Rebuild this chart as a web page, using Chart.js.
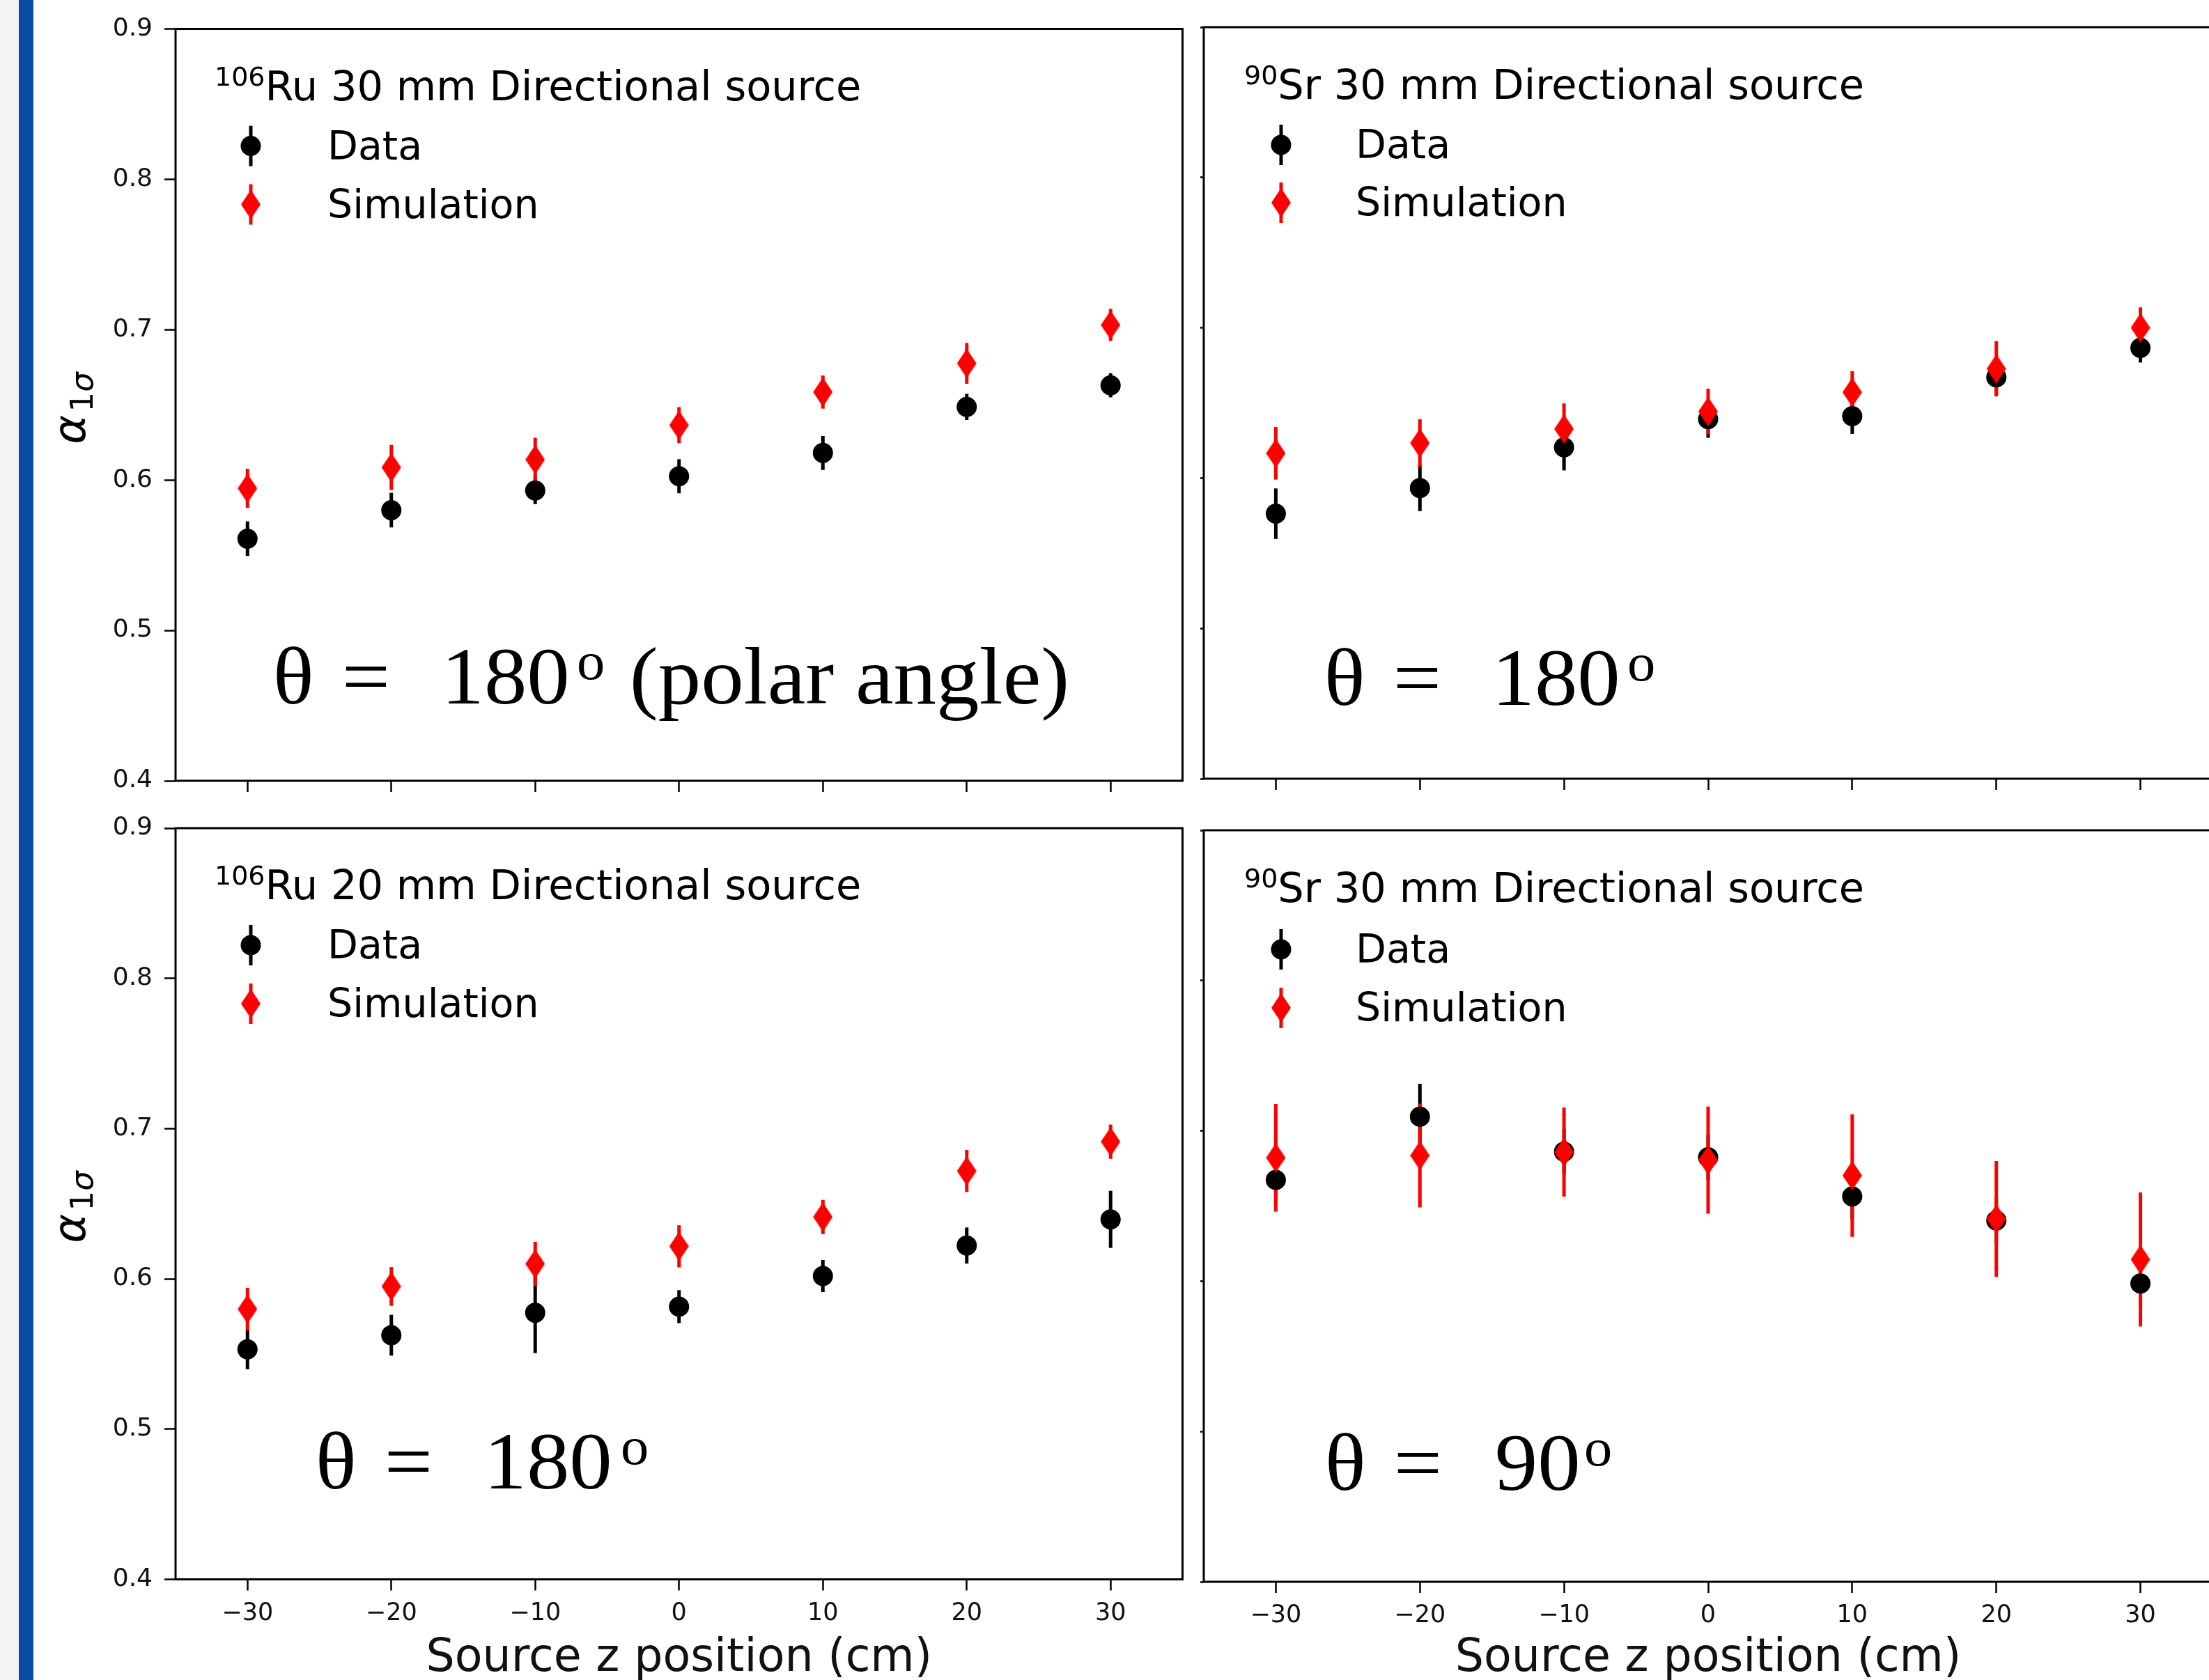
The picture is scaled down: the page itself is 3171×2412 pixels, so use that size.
<!DOCTYPE html>
<html>
<head>
<meta charset="utf-8">
<script src="https://cdn.jsdelivr.net/npm/chart.js@4.4.1/dist/chart.umd.min.js"></script>
<style>
  html, body { margin: 0; padding: 0; background: #fff; }
  body { width: 3171px; height: 2412px; overflow: hidden; position: relative; }
  #edge { position: absolute; left: 0; top: 0; width: 27px; height: 2412px; background: #f3f3f3; }
  #bar { position: absolute; left: 27px; top: 0; width: 21px; height: 2412px; background: #0b4ca6; }
  canvas { position: absolute; }
</style>
</head>
<body>
<div id="edge"></div>
<div id="bar"></div>
<canvas id="tl"></canvas>
<canvas id="tr"></canvas>
<canvas id="bl"></canvas>
<canvas id="br"></canvas>
<script>
// source z positions (cm) and axis ticks
const zPositions = [-30, -20, -10, 0, 10, 20, 30];
const xTickValues = [-30, -20, -10, 0, 10, 20, 30];
const yTickValues = [0.4, 0.5, 0.6, 0.7, 0.8, 0.9];

// 106Ru 30 mm, theta = 180
const ru30Data = [0.561, 0.580, 0.593, 0.6025, 0.618, 0.6486, 0.663];
const ru30DataErr = [0.0115, 0.0115, 0.009, 0.0113, 0.0113, 0.0087, 0.008];
const ru30Sim = [0.5945, 0.6084, 0.6136, 0.6365, 0.6585, 0.6776, 0.7031];
const ru30SimErr = [0.013, 0.015, 0.0145, 0.012, 0.011, 0.0136, 0.0107];

// 90Sr 30 mm, theta = 180
const sr30Data = [0.5763, 0.5934, 0.6205, 0.6392, 0.6412, 0.667, 0.6866];
const sr30DataErr = [0.0168, 0.0154, 0.0154, 0.0124, 0.0118, 0.012, 0.0097];
const sr30Sim = [0.6165, 0.6233, 0.6327, 0.6443, 0.6571, 0.6727, 0.700];
const sr30SimErr = [0.0175, 0.0159, 0.017, 0.0152, 0.014, 0.0184, 0.0136];

// 106Ru 20 mm, theta = 180
const ru20Data = [0.5531, 0.5625, 0.5775, 0.5815, 0.6019, 0.6222, 0.6396];
const ru20DataErr = [0.0133, 0.0136, 0.0269, 0.011, 0.0107, 0.012, 0.019];
const ru20Sim = [0.5799, 0.595, 0.61, 0.6217, 0.6412, 0.6718, 0.6913];
const ru20SimErr = [0.0142, 0.0129, 0.0147, 0.014, 0.0114, 0.014, 0.0114];

// 90Sr 30 mm, theta = 90
const sr90Data = [0.6674, 0.7094, 0.6862, 0.6824, 0.6564, 0.6404, 0.5985];
const sr90DataErr = [0.015, 0.0219, 0.015, 0.015, 0.015, 0.015, 0.015];
const sr90Sim = [0.6821, 0.6836, 0.6859, 0.6805, 0.6703, 0.6414, 0.6144];
const sr90SimErr = [0.0358, 0.0345, 0.0296, 0.0356, 0.0408, 0.0385, 0.0446];

const xTitle = 'Source z position (cm)';
const legendLabels = ['Data', 'Simulation'];

// panel layout, in page pixels
const panels = [
  {
    canvasId: 'tl', box: { x: 0, y: 0, w: 1712, h: 1160 },
    area: { l: 252, t: 41.5, r: 1699, b: 1121 },
    yLabels: true, xLabels: false,
    data: ru30Data, dataErr: ru30DataErr, sim: ru30Sim, simErr: ru30SimErr,
    sup: '106', title: 'Ru 30 mm Directional source',
    legend: { supX: 308, markerX: 360, textX: 470, titleY: 143.7, dataY: 228.6, simY: 312.5 },
    angle: { y: 1010, parts: [['θ', 397], ['=', 496], ['180', 644]], supX: 830, tail: ['(polar angle)', 909] },
    yTitle: { x: 122, y: 586 }
  },
  {
    canvasId: 'tr', box: { x: 1712, y: 0, w: 1488, h: 1160 },
    area: { l: 1728, t: 39, r: 3176, b: 1118 },
    yLabels: false, xLabels: false,
    data: sr30Data, dataErr: sr30DataErr, sim: sr30Sim, simErr: sr30SimErr,
    sup: '90', title: 'Sr 30 mm Directional source',
    legend: { supX: 1786, markerX: 1839, textX: 1946, titleY: 142, dataY: 227, simY: 310 },
    angle: { y: 1012, parts: [['θ', 1906], ['=', 2005], ['180', 2152]], supX: 2338 }
  },
  {
    canvasId: 'bl', box: { x: 0, y: 1130, w: 1712, h: 1291 },
    area: { l: 252, t: 1189, r: 1699, b: 2267.5 },
    yLabels: true, xLabels: true,
    data: ru20Data, dataErr: ru20DataErr, sim: ru20Sim, simErr: ru20SimErr,
    sup: '106', title: 'Ru 20 mm Directional source',
    legend: { supX: 308, markerX: 360, textX: 470, titleY: 1291, dataY: 1376, simY: 1460 },
    angle: { y: 2137, parts: [['θ', 458], ['=', 557], ['180', 705]], supX: 893 },
    yTitle: { x: 122, y: 1733 }
  },
  {
    canvasId: 'br', box: { x: 1712, y: 1160, w: 1488, h: 1261 },
    area: { l: 1728, t: 1192, r: 3176, b: 2271 },
    yLabels: false, xLabels: true,
    data: sr90Data, dataErr: sr90DataErr, sim: sr90Sim, simErr: sr90SimErr,
    sup: '90', title: 'Sr 30 mm Directional source',
    legend: { supX: 1786, markerX: 1839, textX: 1946, titleY: 1295, dataY: 1382, simY: 1466 },
    angle: { y: 2139, parts: [['θ', 1907], ['=', 2006], ['90', 2149]], supX: 2276 }
  }
];

const BAR_W = 5;

// matplotlib style thin diamond marker
function makeDiamond(w, h, color) {
  const c = document.createElement('canvas');
  c.width = w; c.height = h;
  const g = c.getContext('2d');
  g.fillStyle = color;
  g.beginPath();
  g.moveTo(w / 2, 0); g.lineTo(w, h / 2); g.lineTo(w / 2, h); g.lineTo(0, h / 2);
  g.closePath();
  g.fill();
  return c;
}
const diamond = makeDiamond(28, 42, '#ff0000');

function tickText(v) {
  return v < 0 ? '\u2212' + Math.abs(v) : String(v);
}

function drawErrorBars(chart) {
  const ctx = chart.ctx, xs = chart.scales.x, ys = chart.scales.y;
  chart.data.datasets.forEach(ds => {
    ctx.save();
    ctx.strokeStyle = ds.barColor;
    ctx.lineWidth = BAR_W;
    ds.data.forEach((pt, i) => {
      const e = ds.errors[i];
      const px = xs.getPixelForValue(pt.x);
      ctx.beginPath();
      ctx.moveTo(px, ys.getPixelForValue(pt.y - e));
      ctx.lineTo(px, ys.getPixelForValue(pt.y + e));
      ctx.stroke();
    });
    ctx.restore();
  });
}

function drawLegend(ctx, p) {
  const lg = p.legend;
  ctx.fillStyle = '#000';
  ctx.textAlign = 'left';
  ctx.textBaseline = 'alphabetic';
  ctx.font = '38px "DejaVu Sans"';
  ctx.fillText(p.sup, lg.supX, lg.titleY - 21);
  const w = ctx.measureText(p.sup).width;
  ctx.font = '59px "DejaVu Sans"';
  ctx.fillText(p.title, lg.supX + w, lg.titleY);

  // entries: marker with its error bar, then label
  const rows = [[lg.dataY, '#000000', 'circle'], [lg.simY, '#ff0000', 'diamond']];
  rows.forEach((row, i) => {
    const cy = row[0] - 19;
    ctx.strokeStyle = row[1];
    ctx.lineWidth = BAR_W;
    ctx.beginPath();
    ctx.moveTo(lg.markerX, cy - 29);
    ctx.lineTo(lg.markerX, cy + 29);
    ctx.stroke();
    if (row[2] === 'circle') {
      ctx.fillStyle = row[1];
      ctx.beginPath();
      ctx.arc(lg.markerX, cy, 14.5, 0, Math.PI * 2);
      ctx.fill();
    } else {
      ctx.drawImage(diamond, lg.markerX - diamond.width / 2, cy - diamond.height / 2);
    }
    ctx.fillStyle = '#000';
    ctx.font = '57px "DejaVu Sans"';
    ctx.fillText(legendLabels[i], lg.textX, row[0]);
  });
}

// text segment whose ink starts at inkX, a little widened like the original serif face
function serifText(ctx, s, inkX, y, size) {
  ctx.font = size + 'px "Liberation Serif"';
  const m = ctx.measureText(s);
  ctx.save();
  ctx.translate(inkX, y);
  ctx.scale(1.06, 1);
  ctx.fillText(s, m.actualBoundingBoxLeft, 0);
  ctx.restore();
}

function drawAngle(ctx, a) {
  ctx.fillStyle = '#000';
  ctx.textAlign = 'left';
  ctx.textBaseline = 'alphabetic';
  a.parts.forEach(([s, x]) => serifText(ctx, s, x, a.y, 116));
  serifText(ctx, 'o', a.supX, a.y - 35, 76);
  if (a.tail) serifText(ctx, a.tail[0], a.tail[1], a.y, 116);
}

function drawYTitle(ctx, t) {
  ctx.save();
  ctx.translate(t.x, t.y);
  ctx.rotate(-Math.PI / 2);
  ctx.fillStyle = '#000';
  ctx.textAlign = 'left';
  ctx.textBaseline = 'alphabetic';
  const big = 'italic 64px "DejaVu Sans"';
  const subUp = '45px "DejaVu Sans"';
  const subIt = 'italic 45px "DejaVu Sans"';
  ctx.font = big;
  const wa = ctx.measureText('α').width;
  ctx.font = subUp;
  const w1 = ctx.measureText('1').width;
  ctx.font = subIt;
  const ws = ctx.measureText('σ').width;
  const gap = 4;
  let x = -(wa + w1 + ws + gap) / 2;
  ctx.font = big;
  ctx.fillText('α', x, 0);
  x += wa + gap;
  ctx.font = subUp;
  ctx.fillText('1', x, 11);
  x += w1;
  ctx.font = subIt;
  ctx.fillText('σ', x, 11);
  ctx.restore();
}

function makeDecor(p) {
  return {
    id: 'decor_' + p.canvasId,
    beforeDatasetsDraw(chart) {
      drawErrorBars(chart);
    },
    afterDraw(chart) {
      const ctx = chart.ctx, ca = chart.chartArea;
      ctx.save();
      ctx.strokeStyle = '#000';
      ctx.lineWidth = 3;
      ctx.strokeRect(ca.left, ca.top, ca.right - ca.left, ca.bottom - ca.top);
      ctx.translate(-p.box.x, -p.box.y);
      drawLegend(ctx, p);
      drawAngle(ctx, p.angle);
      if (p.yTitle) drawYTitle(ctx, p.yTitle);
      ctx.restore();
    }
  };
}

panels.forEach(p => {
  const canvas = document.getElementById(p.canvasId);
  canvas.width = p.box.w;
  canvas.height = p.box.h;
  canvas.style.left = p.box.x + 'px';
  canvas.style.top = p.box.y + 'px';
  canvas.style.width = p.box.w + 'px';
  canvas.style.height = p.box.h + 'px';

  const yw = p.yLabels ? 120 : 10;
  const a = p.area, b = p.box;

  new Chart(canvas, {
    type: 'scatter',
    data: {
      datasets: [
        {
          label: legendLabels[0],
          data: zPositions.map((z, i) => ({ x: z, y: p.data[i] })),
          errors: p.dataErr,
          barColor: '#000000',
          pointStyle: 'circle',
          pointRadius: 14.5,
          pointBorderWidth: 0,
          backgroundColor: '#000000',
          borderColor: '#000000',
          order: 1
        },
        {
          label: legendLabels[1],
          data: zPositions.map((z, i) => ({ x: z, y: p.sim[i] })),
          errors: p.simErr,
          barColor: '#ff0000',
          pointStyle: diamond,
          pointRadius: 14,
          pointBorderWidth: 0,
          backgroundColor: '#ff0000',
          borderColor: '#ff0000',
          order: 0
        }
      ]
    },
    options: {
      responsive: false,
      animation: false,
      events: [],
      layout: {
        padding: { left: a.l - b.x - yw, top: a.t - b.y, right: b.x + b.w - a.r, bottom: 0 }
      },
      plugins: { legend: { display: false }, tooltip: { enabled: false } },
      scales: {
        x: {
          type: 'linear',
          position: 'bottom',
          min: -35,
          max: 35,
          bounds: 'data',
          afterBuildTicks: ax => { ax.ticks = xTickValues.map(v => ({ value: v })); },
          afterFit: ax => { ax.height = b.y + b.h - a.b; },
          border: { display: false },
          grid: { drawOnChartArea: false, drawTicks: true, tickLength: 16, tickWidth: 2.5, tickColor: '#000' },
          ticks: {
            display: p.xLabels,
            padding: 12,
            autoSkip: false,
            maxRotation: 0,
            color: '#111',
            font: { family: 'DejaVu Sans', size: 35 },
            callback: v => tickText(v)
          },
          title: {
            display: p.xLabels,
            text: xTitle,
            color: '#111',
            font: { family: 'DejaVu Sans', size: 65 },
            padding: { top: 0, bottom: 0 }
          }
        },
        y: {
          type: 'linear',
          position: 'left',
          min: 0.4,
          max: 0.9,
          bounds: 'data',
          afterBuildTicks: ax => { ax.ticks = yTickValues.map(v => ({ value: v })); },
          afterFit: ax => { ax.width = yw; },
          border: { display: false },
          grid: { drawOnChartArea: false, drawTicks: true, tickLength: p.yLabels ? 16 : 5, tickWidth: 2.5, tickColor: '#000' },
          ticks: {
            display: p.yLabels,
            padding: 17,
            color: '#111',
            font: { family: 'DejaVu Sans', size: 36 },
            callback: v => v.toFixed(1)
          }
        }
      }
    },
    plugins: [makeDecor(p)]
  });
});
</script>
</body>
</html>
